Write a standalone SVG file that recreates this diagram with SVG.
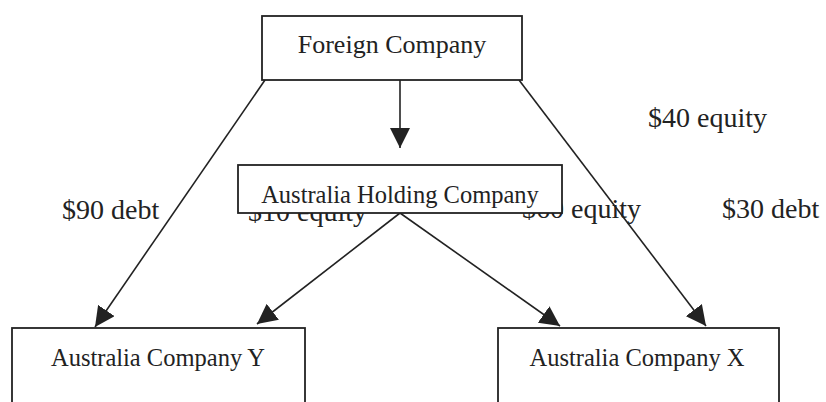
<svg xmlns="http://www.w3.org/2000/svg" width="826" height="402" viewBox="0 0 826 402">
  <style>
    .box { fill: #ffffff; stroke: #222222; stroke-width: 1.8; }
    .lbl { font-family: "Liberation Serif", "Times New Roman", serif; font-size: 28px; fill: #222222; }
    .ntxt { font-family: "Liberation Serif", "Times New Roman", serif; font-size: 24.5px; fill: #222222; text-anchor: middle; }
    .edge { stroke: #222222; stroke-width: 1.6; fill: none; marker-end: url(#arrow); }
  </style>
  <defs>
    <marker id="arrow" viewBox="0 0 20 20" refX="20" refY="10" markerWidth="20" markerHeight="20" markerUnits="userSpaceOnUse" orient="auto">
      <path d="M0,0 L20,10 L0,20 z" fill="#222222"/>
    </marker>
  </defs>
  <rect x="0" y="0" width="826" height="402" fill="#ffffff"/>

  <g id="labels">
    <text class="lbl" x="62" y="219">$90 debt</text>
    <text class="lbl" x="248" y="221">$10 equity</text>
    <text class="lbl" x="522" y="218">$60 equity</text>
    <text class="lbl" x="722" y="218">$30 debt</text>
    <text class="lbl" x="648" y="127">$40 equity</text>
  </g>

  <g id="connectors">
    <line class="edge" x1="400" y1="80" x2="400" y2="148"/>
    <line class="edge" x1="265" y1="80" x2="95" y2="327"/>
    <line class="edge" x1="519" y1="80" x2="706" y2="326"/>
    <line class="edge" x1="400" y1="213" x2="257" y2="324"/>
    <line class="edge" x1="400" y1="213" x2="560" y2="326"/>
  </g>

  <g id="foreign-company">
    <rect class="box" x="262" y="16" width="260" height="64"/>
    <text class="ntxt" x="392" y="53" style="font-size:26px">Foreign Company</text>
  </g>

  <g id="australia-holding-company">
    <rect class="box" x="238" y="165" width="324" height="48"/>
    <text class="ntxt" x="400" y="203">Australia Holding Company</text>
  </g>

  <g id="australia-company-y">
    <rect class="box" x="12" y="328" width="293" height="90"/>
    <text class="ntxt" x="158" y="366">Australia Company Y</text>
  </g>

  <g id="australia-company-x">
    <rect class="box" x="498" y="328" width="281" height="90"/>
    <text class="ntxt" x="637" y="366">Australia Company X</text>
  </g>
</svg>
